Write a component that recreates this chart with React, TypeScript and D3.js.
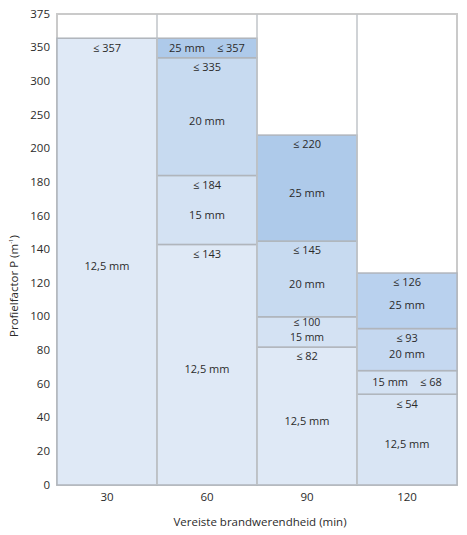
import React from "react";
import * as d3 from "d3";

const columns = ["30", "60", "90", "120"];
const thickness = ["12,5 mm", "15 mm", "20 mm", "25 mm"];
// upper bound of each thickness segment per column (stacked from 0)
const col30 = [357];
const col60 = [143, 184, 335, 357];
const col90 = [82, 100, 145, 220];
const col120 = [54, 68, 93, 126];
const series = [col30, col60, col90, col120];
const yTicks = [0, 20, 40, 60, 80, 100, 120, 140, 160, 180, 200, 250, 300, 350, 375];

const fills = ["#dfe9f6", "#d4e2f3", "#c7daf0", "#aecaea"];
const fills120 = ["#d9e5f4", "#d4e2f3", "#c5d8f0", "#b9d1ee"];

const W = 467;
const H = 535;
const left = 57;
const right = 457;
const top = 14;
const bottom = 485;

export default function App() {
  const step = (bottom - top) / 14;
  const y = d3
    .scaleLinear()
    .domain([0, 200, 350, 375])
    .range([bottom, bottom - 10 * step, bottom - 13 * step, top]);
  const x = d3.scaleBand().domain(columns).range([left, right]).padding(0);
  const bw = x.bandwidth();
  const font = "'Open Sans', sans-serif";
  const txt = "#2b2b2b";
  const segStroke = "#b0b5bc";
  const fs = 11;

  const segs: any[] = [];
  series.forEach((vals, ci) => {
    let prev = 0;
    vals.forEach((v, ti) => {
      segs.push({ col: columns[ci], ci, ti, lo: prev, hi: v });
      prev = v;
    });
  });

  return (
    <div style={{ position: "absolute", left: 0, top: 0 }}>
      <svg width={W} height={H} style={{ display: "block", background: "#fff" }} fontFamily={font}>
        <rect x={left} y={top} width={right - left} height={bottom - top} fill="#fff" stroke="#cacaca" strokeWidth={2} />
        {segs.map((s, i) => {
          const x0 = x(s.col)!;
          const yt = y(s.hi);
          const yb = y(s.lo);
          const fill = s.ci === 3 ? fills120[s.ti] : fills[s.ti];
          return (
            <rect key={"r" + i} x={x0} y={yt} width={bw} height={yb - yt} fill={fill} stroke={segStroke} strokeWidth={1.5} />
          );
        })}
        {columns.slice(1).map((c) => (
          <line key={"sep" + c} x1={x(c)} x2={x(c)} y1={top} y2={bottom} stroke="#c0c4c9" strokeWidth={1.5} />
        ))}
        {segs.map((s, i) => {
          const cx = x(s.col)! + bw / 2;
          const yt = y(s.hi);
          const yb = y(s.lo);
          const h = yb - yt;
          const le = "\u2264 " + s.hi;
          const mm = thickness[s.ti];
          if (h < 25) {
            return (
              <text key={"t" + i} x={cx} y={(yt + yb) / 2} dy="0.35em" textAnchor="middle" fontSize={fs} fill={txt}>
                <tspan>{mm}</tspan>
                <tspan dx={12}>{le}</tspan>
              </text>
            );
          }
          if (h < 40) {
            return (
              <g key={"t" + i}>
                <text x={cx} y={yt + 6} dy="0.35em" textAnchor="middle" fontSize={10.5} fill={txt}>{le}</text>
                <text x={cx} y={yt + 20.5} dy="0.35em" textAnchor="middle" fontSize={10.5} fill={txt}>{mm}</text>
              </g>
            );
          }
          const ly = yt + 9.5;
          return (
            <g key={"t" + i}>
              <text x={cx} y={ly} dy="0.35em" textAnchor="middle" fontSize={fs} fill={txt}>{le}</text>
              <text x={cx} y={(ly + yb) / 2} dy="0.35em" textAnchor="middle" fontSize={fs} fill={txt}>{mm}</text>
            </g>
          );
        })}
        {yTicks.map((t) => (
          <text key={"y" + t} x={50} y={y(t)} dy="0.32em" textAnchor="end" fontSize={11.5} fill={txt}>{t}</text>
        ))}
        {columns.map((c) => (
          <text key={"x" + c} x={x(c)! + bw / 2} y={497} dy="0.35em" textAnchor="middle" fontSize={11.5} fill={txt}>{c}</text>
        ))}
        <text x={260} y={522} dy="0.35em" textAnchor="middle" fontSize={11.5} fill={txt}>Vereiste brandwerendheid (min)</text>
        <text transform="translate(14,286) rotate(-90)" dy="0.35em" textAnchor="middle" fontSize={11.5} fill={txt}>
          Profielfactor P (m<tspan dy="-5" fontSize={6}>-1</tspan><tspan dy="5">)</tspan>
        </text>
      </svg>
    </div>
  );
}
